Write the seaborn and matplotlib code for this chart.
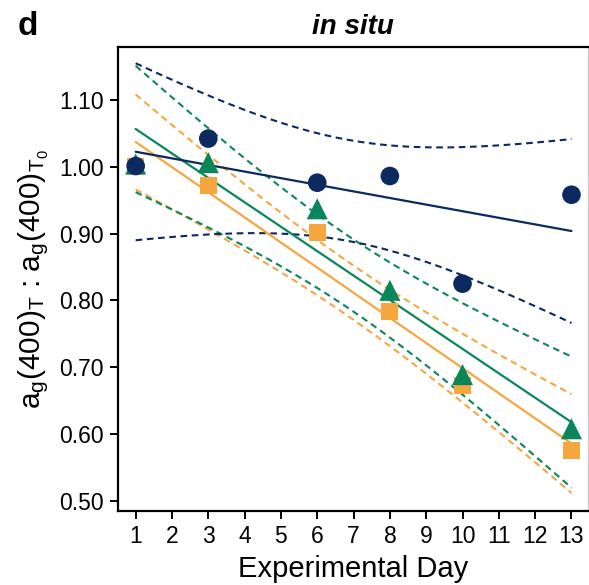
import numpy as np
import pandas as pd
import matplotlib
matplotlib.use("Agg")
import matplotlib.pyplot as plt
import seaborn as sns

# ---- data ----
days = [1, 3, 6, 8, 10, 13]
navy_vals = [1.001, 1.042, 0.976, 0.986, 0.825, 0.958]
green_vals = [1.004, 1.006, 0.937, 0.815, 0.689, 0.608]
orange_vals = [1.000, 0.972, 0.902, 0.783, 0.673, 0.576]
x_ticks = list(range(1, 14))
y_ticks = [0.50, 0.60, 0.70, 0.80, 0.90, 1.00, 1.10]

series_names = ["navy", "green", "orange"]
series_vals = [navy_vals, green_vals, orange_vals]
colors = {"navy": "#0c2a5f", "green": "#0a875a", "orange": "#f6a63e"}
markers = {"navy": "o", "green": "^", "orange": "s"}
msize = {"navy": 180, "green": 230, "orange": 150}

sns.set_style("ticks")
plt.rcParams["font.family"] = ["Liberation Sans", "DejaVu Sans"]
plt.rcParams["mathtext.fontset"] = "custom"
plt.rcParams["mathtext.rm"] = "Liberation Sans"
plt.rcParams["mathtext.it"] = "Liberation Sans"
for k in ["text.color", "axes.labelcolor", "xtick.color", "ytick.color", "axes.edgecolor"]:
    plt.rcParams[k] = "black"

fig = plt.figure(figsize=(5.89, 5.85), dpi=100)
ax = fig.add_axes([0.2003, 0.1265, 0.7977, 0.7932])

T_CRIT = 2.776445  # t(0.975, df=4)


def fit_with_ci(x, y, grid):
    x = np.asarray(x, float)
    y = np.asarray(y, float)
    n = len(x)
    b, a = np.polyfit(x, y, 1)
    resid = y - (a + b * x)
    s = np.sqrt(np.sum(resid ** 2) / (n - 2))
    sxx = np.sum((x - x.mean()) ** 2)
    se = s * np.sqrt(1.0 / n + (grid - x.mean()) ** 2 / sxx)
    fit = a + b * grid
    return fit, fit - T_CRIT * se, fit + T_CRIT * se


grid = np.linspace(days[0], days[-1], 200)

# lines (draw orange, green, navy so navy is on top)
for name, vals in zip(series_names[::-1], series_vals[::-1]):
    fit, lo, hi = fit_with_ci(days, vals, grid)
    df = pd.DataFrame({"x": grid, "fit": fit, "lo": lo, "hi": hi})
    c = colors[name]
    sns.lineplot(data=df, x="x", y="fit", color=c, lw=1.6, ax=ax, zorder=3)
    for col in ["lo", "hi"]:
        sns.lineplot(data=df, x="x", y=col, color=c, lw=1.5, ax=ax, zorder=2,
                     dashes=False, linestyle=(0, (3.2, 2.2)))

# points: orange below, then green, then navy on top
for name, vals, z in [("orange", orange_vals, 4), ("green", green_vals, 5), ("navy", navy_vals, 6)]:
    pts = pd.DataFrame({"day": days, "val": vals})
    sns.scatterplot(data=pts, x="day", y="val", color=colors[name], marker=markers[name],
                    s=msize[name], edgecolor="none", linewidth=0, ax=ax, zorder=z)

ax.set_xlim(0.513, 13.45)
ax.set_ylim(0.485, 1.179)
ax.set_xticks(x_ticks)
ax.set_xticklabels([str(t) for t in x_ticks])
ax.set_yticks(y_ticks)
ax.set_yticklabels([f"{t:.2f}" for t in y_ticks])
ax.tick_params(axis="both", labelsize=16.5, length=6, width=1.4, colors="black", pad=4)

for sp in ["left", "bottom", "top"]:
    ax.spines[sp].set_color("black")
    ax.spines[sp].set_linewidth(1.6)
ax.spines["right"].set_color("#cccccc")
ax.spines["right"].set_linewidth(1.0)
ax.spines["right"].set_visible(True)
ax.spines["top"].set_visible(True)

ax.set_xlabel("Experimental Day", fontsize=21, labelpad=5, color="black")
ax.set_ylabel(r"a$_\mathregular{g}$(400)$_\mathregular{T}$ : a$_\mathregular{g}$(400)$_\mathregular{T_0}$",
              fontsize=21.5, labelpad=6, color="black")
ax.set_title("in situ", fontsize=20, fontweight="bold", fontstyle="italic", pad=9, color="black")
fig.text(0.03, 0.955, "d", fontsize=24, fontweight="bold", ha="left", va="center", color="black")

fig.savefig("out.png", dpi=100)
